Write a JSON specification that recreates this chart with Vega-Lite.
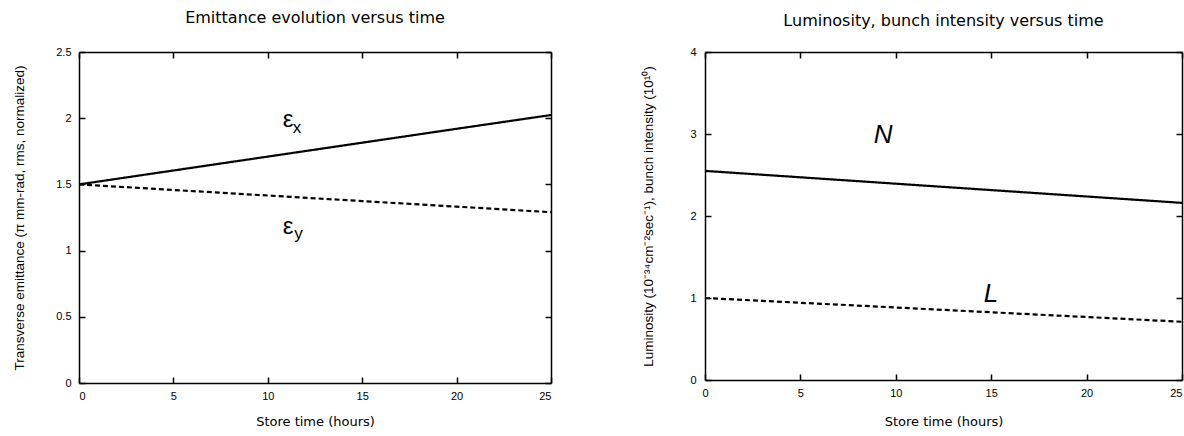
{
  "$schema": "https://vega.github.io/schema/vega-lite/v6.json",
  "padding": {"left": 12, "top": 10, "right": 0, "bottom": 2},
  "bounds": "flush",
  "spacing": 154,
  "config": {
    "view": {"stroke": null},
    "font": "Liberation Sans",
    "axis": {
      "grid": false,
      "domainColor": "black", "domainWidth": 1.5,
      "tickColor": "black", "tickWidth": 1.5, "tickSize": -6,
      "labelColor": "black", "labelFont": "Liberation Sans", "labelFontSize": 11,
      "titleColor": "black", "titleFontWeight": "normal", "titleFont": "Liberation Sans", "titleFontSize": 13.5
    },
    "title": {"font": "DejaVu Sans", "fontSize": 16, "fontWeight": "normal", "color": "black", "anchor": "middle"}
  },
  "hconcat": [
    {
      "width": 472, "height": 331,
      "title": {"text": "Emittance evolution versus time", "offset": 20},
      "resolve": {"axis": {"x": "independent", "y": "independent"}},
      "layer": [
        {
          "data": {"values": [
            {"t": 0, "v": 1.5, "series": "ex"}, {"t": 5, "v": 1.605, "series": "ex"}, {"t": 10, "v": 1.71, "series": "ex"},
            {"t": 15, "v": 1.815, "series": "ex"}, {"t": 20, "v": 1.92, "series": "ex"}, {"t": 25, "v": 2.024, "series": "ex"},
            {"t": 0, "v": 1.5, "series": "ey"}, {"t": 5, "v": 1.458, "series": "ey"}, {"t": 10, "v": 1.416, "series": "ey"},
            {"t": 15, "v": 1.374, "series": "ey"}, {"t": 20, "v": 1.332, "series": "ey"}, {"t": 25, "v": 1.29, "series": "ey"}
          ]},
          "mark": {"type": "line", "color": "black", "strokeWidth": 2.2},
          "encoding": {
            "x": {"field": "t", "type": "quantitative", "scale": {"domain": [0, 25], "nice": false},
              "axis": {"orient": "bottom", "values": [0, 5, 10, 15, 20, 25], "labelPadding": 13, "title": "Store time (hours)", "titleFont": "DejaVu Sans", "titleFontSize": 13, "titlePadding": 14}},
            "y": {"field": "v", "type": "quantitative", "scale": {"domain": [0, 2.5], "nice": false},
              "axis": {"orient": "left", "values": [0, 0.5, 1, 1.5, 2, 2.5], "format": "~g", "labelPadding": 14, "title": "Transverse emittance (π  mm-rad, rms, normalized)", "titlePadding": 29}},
            "strokeDash": {"field": "series", "type": "nominal", "scale": {"domain": ["ex", "ey"], "range": [[1, 0], [5, 3]]}, "legend": null},
            "detail": {"field": "series"}
          }
        },
        {
          "data": {"values": [{"t": 0, "v": 0}, {"t": 25, "v": 2.5}]},
          "mark": {"type": "point", "opacity": 0},
          "encoding": {
            "x": {"field": "t", "type": "quantitative", "axis": {"orient": "top", "values": [0, 5, 10, 15, 20, 25], "labels": false, "title": null}},
            "y": {"field": "v", "type": "quantitative", "axis": {"orient": "right", "values": [0, 0.5, 1, 1.5, 2, 2.5], "labels": false, "title": null}}
          }
        },
        {
          "data": {"values": [{"t": 11.07, "v": 1.93, "label": "ε"}, {"t": 11.07, "v": 1.125, "label": "ε"}]},
          "mark": {"type": "text", "fontSize": 24, "align": "center", "baseline": "alphabetic", "color": "black"},
          "encoding": {
            "x": {"field": "t", "type": "quantitative", "axis": null},
            "y": {"field": "v", "type": "quantitative", "axis": null},
            "text": {"field": "label"}
          }
        },
        {
          "data": {"values": [{"t": 11.55, "v": 1.89, "label": "x"}, {"t": 11.63, "v": 1.091, "label": "y"}]},
          "mark": {"type": "text", "fontSize": 17, "align": "center", "baseline": "alphabetic", "color": "black"},
          "encoding": {
            "x": {"field": "t", "type": "quantitative", "axis": null},
            "y": {"field": "v", "type": "quantitative", "axis": null},
            "text": {"field": "label"}
          }
        }
      ]
    },
    {
      "width": 477, "height": 328,
      "title": {"text": "Luminosity, bunch intensity versus time", "offset": 17},
      "resolve": {"axis": {"x": "independent", "y": "independent"}},
      "layer": [
        {
          "data": {"values": [
            {"t": 0, "v": 2.55, "series": "N"}, {"t": 5, "v": 2.472, "series": "N"}, {"t": 10, "v": 2.394, "series": "N"},
            {"t": 15, "v": 2.316, "series": "N"}, {"t": 20, "v": 2.238, "series": "N"}, {"t": 25, "v": 2.16, "series": "N"},
            {"t": 0, "v": 1.0, "series": "L"}, {"t": 5, "v": 0.942, "series": "L"}, {"t": 10, "v": 0.884, "series": "L"},
            {"t": 15, "v": 0.826, "series": "L"}, {"t": 20, "v": 0.768, "series": "L"}, {"t": 25, "v": 0.71, "series": "L"}
          ]},
          "mark": {"type": "line", "color": "black", "strokeWidth": 2.2},
          "encoding": {
            "x": {"field": "t", "type": "quantitative", "scale": {"domain": [0, 25], "nice": false},
              "axis": {"orient": "bottom", "values": [0, 5, 10, 15, 20, 25], "labelPadding": 13, "labelAlign": {"condition": {"test": "datum.value === 25", "value": "right"}, "value": "center"}, "title": "Store time (hours)", "titleFont": "DejaVu Sans", "titleFontSize": 13, "titlePadding": 17}},
            "y": {"field": "v", "type": "quantitative", "scale": {"domain": [0, 4], "nice": false},
              "axis": {"orient": "left", "values": [0, 1, 2, 3, 4], "format": "~g", "labelPadding": 15, "title": "Luminosity (10⁻³⁴cm⁻²sec⁻¹), bunch intensity (10¹⁰)", "titlePadding": 34}},
            "strokeDash": {"field": "series", "type": "nominal", "scale": {"domain": ["N", "L"], "range": [[1, 0], [5, 3]]}, "legend": null},
            "detail": {"field": "series"}
          }
        },
        {
          "data": {"values": [{"t": 0, "v": 0}, {"t": 25, "v": 4}]},
          "mark": {"type": "point", "opacity": 0},
          "encoding": {
            "x": {"field": "t", "type": "quantitative", "axis": {"orient": "top", "values": [0, 5, 10, 15, 20, 25], "labels": false, "title": null}},
            "y": {"field": "v", "type": "quantitative", "axis": {"orient": "right", "values": [0, 1, 2, 3, 4], "labels": false, "title": null}}
          }
        },
        {
          "data": {"values": [{"t": 9.33, "v": 2.894, "label": "N"}, {"t": 14.99, "v": 0.955, "label": "L"}]},
          "mark": {"type": "text", "fontSize": 26, "fontStyle": "italic", "align": "center", "baseline": "alphabetic", "color": "black"},
          "encoding": {
            "x": {"field": "t", "type": "quantitative", "axis": null},
            "y": {"field": "v", "type": "quantitative", "axis": null},
            "text": {"field": "label"}
          }
        }
      ]
    }
  ]
}
